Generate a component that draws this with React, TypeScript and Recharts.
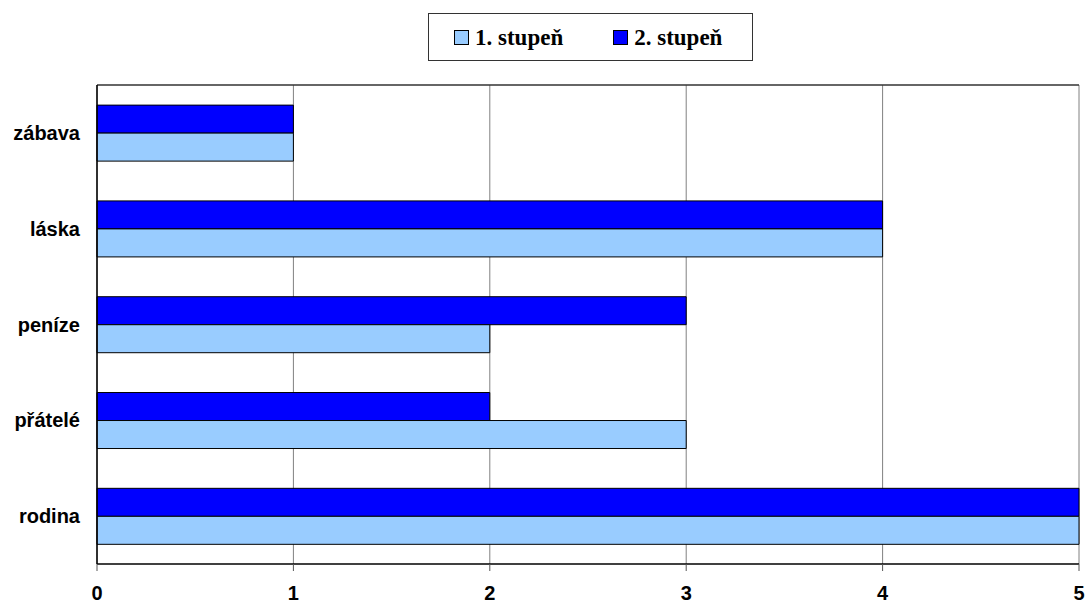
import React from "react";
import { BarChart, Bar, XAxis, YAxis, CartesianGrid, Legend } from "recharts";

const categories = ["zábava", "láska", "peníze", "přátelé", "rodina"];
const stupen1 = [1, 4, 2, 3, 5];
const stupen2 = [1, 4, 3, 2, 5];
const xTicks = [0, 1, 2, 3, 4, 5];
const edgeTicks = [0, 1, 2, 3, 4, 5];

const series = [
  { key: "s1", name: "1. stupeň", color: "#99CCFF" },
  { key: "s2", name: "2. stupeň", color: "#0000FF" },
];

const data = categories.map((name, i) => ({ name, s1: stupen1[i], s2: stupen2[i] }));

const LegendBox = () => (
  <div
    style={{
      boxSizing: "border-box",
      width: 325,
      height: 48,
      border: "1px solid #333",
      background: "#fff",
      display: "flex",
      alignItems: "center",
      paddingLeft: 25,
      fontFamily: "'Liberation Serif', 'Times New Roman', serif",
      fontWeight: "bold",
      fontSize: 23,
      color: "#000",
    }}
  >
    {series.map((s, i) => (
      <div key={s.key} style={{ display: "flex", alignItems: "center", marginRight: i === 0 ? 50 : 0 }}>
        <span
          style={{
            display: "inline-block",
            boxSizing: "border-box",
            width: 15,
            height: 15,
            background: s.color,
            border: "1px solid #000",
            marginRight: 6,
          }}
        />
        <span style={{ lineHeight: 1 }}>{s.name}</span>
      </div>
    ))}
  </div>
);

const tickFont = {
  fontFamily: "'Liberation Sans', Arial, sans-serif",
  fontWeight: "bold" as const,
  fontSize: 20,
  fill: "#000",
};

export default function App() {
  return (
    <div style={{ position: "absolute", left: 0, top: 0, background: "#fff" }}>
      <BarChart
        width={1086}
        height={603}
        data={data}
        layout="vertical"
        margin={{ top: 84, right: 7, bottom: 0, left: 0 }}
        barCategoryGap="21%"
        barGap={0}
      >
        <CartesianGrid horizontal={false} vertical={true} stroke="#808080" strokeWidth={1} yAxisId="a_edge" />
        <XAxis
          type="number"
          domain={[0, 5]}
          ticks={xTicks}
          interval={0}
          height={39}
          tickSize={7}
          tickMargin={15}
          tick={tickFont}
          axisLine={{ stroke: "#000", strokeWidth: 1.5 }}
          tickLine={{ stroke: "#555" }}
        />
        <XAxis
          xAxisId="top"
          orientation="top"
          type="number"
          domain={[0, 5]}
          height={1}
          tick={false}
          tickLine={false}
          axisLine={{ stroke: "#333", strokeWidth: 1.5 }}
        />
        <YAxis
          yAxisId="a_edge"
          type="number"
          domain={[0, 5]}
          ticks={edgeTicks}
          interval={0}
          width={7}
          tickSize={7}
          tick={false}
          axisLine={{ stroke: "#000", strokeWidth: 1.5 }}
          tickLine={{ stroke: "#555" }}
        />
        <YAxis
          yAxisId="b_cat"
          type="category"
          dataKey="name"
          width={90}
          tickSize={0}
          tickMargin={10}
          axisLine={false}
          tickLine={false}
          tick={tickFont}
          interval={0}
        />
        <Legend
          verticalAlign="middle"
          align="center"
          layout="horizontal"
          wrapperStyle={{ position: "absolute", top: 13, left: 428, width: 325, height: 48 }}
          content={() => <LegendBox />}
        />
        <Bar
          yAxisId="b_cat"
          dataKey="s2"
          name="2. stupeň"
          fill="#0000FF"
          stroke="#000"
          strokeWidth={1}
          isAnimationActive={false}
        />
        <Bar
          yAxisId="b_cat"
          dataKey="s1"
          name="1. stupeň"
          fill="#99CCFF"
          stroke="#000"
          strokeWidth={1}
          isAnimationActive={false}
        />
      </BarChart>
    </div>
  );
}
